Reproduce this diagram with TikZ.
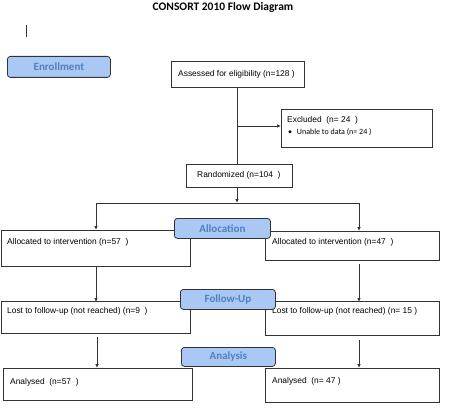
\documentclass[tikz,border=0pt]{standalone}
\usepackage{fontspec}
\setmainfont{Liberation Sans}
\newfontfamily\calib{Carlito}
\usetikzlibrary{arrows.meta,calc}
\definecolor{lblfill}{HTML}{A9C8F4}
\definecolor{lbltext}{HTML}{4F81BD}
\definecolor{linegray}{HTML}{333333}
\tikzset{
  box/.style={draw=linegray, line width=0.8pt, fill=white, inner sep=0pt, anchor=north west},
  stage/.style={draw=linegray, line width=0.8pt, fill=lblfill, rounded corners=3pt, inner sep=0pt, anchor=north west, font=\calib\bfseries\fontsize{11}{13}\selectfont, text=lbltext},
  txt/.style={anchor=west, inner sep=0pt, font=\fontsize{8.4}{10}\selectfont},
  smalltxt/.style={anchor=west, inner sep=0pt, font=\calib\fontsize{8}{9}\selectfont},
  conn/.style={draw=linegray, line width=0.8pt},
  arr/.style={conn, -{Latex[length=4pt,width=3.5pt]}}
}
\begin{document}
\begin{tikzpicture}[x=1pt,y=-1pt]
\useasboundingbox (0,0) rectangle (450,409);
% title
\node[font=\calib\bfseries\fontsize{11.5}{13}\selectfont, inner sep=0pt] (title) at (223,7) {CONSORT 2010 Flow Diagram};
% stray mark
\draw[conn, line width=0.6pt] (26,25) -- (26,37);
% boxes
\node[box, minimum width=133pt, minimum height=26pt] (assess) at (171,61) {};
\node[txt] at (178,74) {Assessed for eligibility (n=128 )};
\node[box, minimum width=151pt, minimum height=38pt] (excl) at (281,109) {};
\node[txt] at (287,120) {Excluded \ (n= 24 \ )};
\node[smalltxt] at (288,132) {\textbullet\hspace{3pt} Unable to data (n= 24 )};
\node[box, minimum width=106pt, minimum height=23pt] (rand) at (186,164) {};
\node[txt] at (197,175.5) {Randomized (n=104 \ )};
\node[box, minimum width=189pt, minimum height=36pt] (allocL) at (1,230) {};
\node[txt] at (7,242) {Allocated to intervention (n=57 \ )};
\node[box, minimum width=174pt, minimum height=29pt] (allocR) at (265,231) {};
\node[txt] at (272,242) {Allocated to intervention (n=47 \ )};
\node[box, minimum width=189pt, minimum height=32pt] (lostL) at (1,301) {};
\node[txt] at (7,311) {Lost to follow-up (not reached) (n=9 \ )};
\node[box, minimum width=174pt, minimum height=34pt] (lostR) at (265,301) {};
\node[txt] at (272,311) {Lost to follow-up (not reached) (n= 15 )};
\node[box, minimum width=189pt, minimum height=32pt] (anaL) at (3,368) {};
\node[txt] at (10,382) {Analysed \ (n=57 \ )};
\node[box, minimum width=174pt, minimum height=34pt] (anaR) at (265,368) {};
\node[txt] at (272,381) {Analysed \ (n= 47 )};
% stage labels
\node[stage, minimum width=103pt, minimum height=21pt] (enrol) at (7,56) {Enrollment};
\node[stage, minimum width=96pt, minimum height=20pt] (alloc) at (174,218) {Allocation};
\node[stage, minimum width=95pt, minimum height=20pt] (follow) at (180,289) {Follow-Up};
\node[stage, minimum width=94pt, minimum height=19pt] (anal) at (181,347) {Analysis};
% connectors
\coordinate (branch) at (237,126);
\coordinate (split) at (237,203);
\coordinate (splitL) at (96,203);
\coordinate (splitR) at (359,203);
\coordinate (colL) at (97,0);
\draw[conn] (assess.south -| branch) -- (rand.north -| branch);
\draw[arr] (branch) -- (excl.west |- branch);
\draw[arr] (rand.south -| split) -- (split);
\draw[conn] (splitL) -- (splitR);
\draw[arr] (splitL) -- (allocL.north -| splitL);
\draw[arr] (splitR) -- (allocR.north -| splitR);
\draw[arr] (allocL.south -| splitL) -- ([yshift=-1pt]lostL.north -| splitL);
\draw[arr, shorten <=3pt] (allocR.south -| splitR) -- ([yshift=-1pt]lostR.north -| splitR);
\draw[arr, shorten <=3pt] (lostL.south -| colL) -- (anaL.north -| colL);
\draw[arr, shorten <=4pt] (lostR.south -| splitR) -- (anaR.north -| splitR);
\end{tikzpicture}
\end{document}
